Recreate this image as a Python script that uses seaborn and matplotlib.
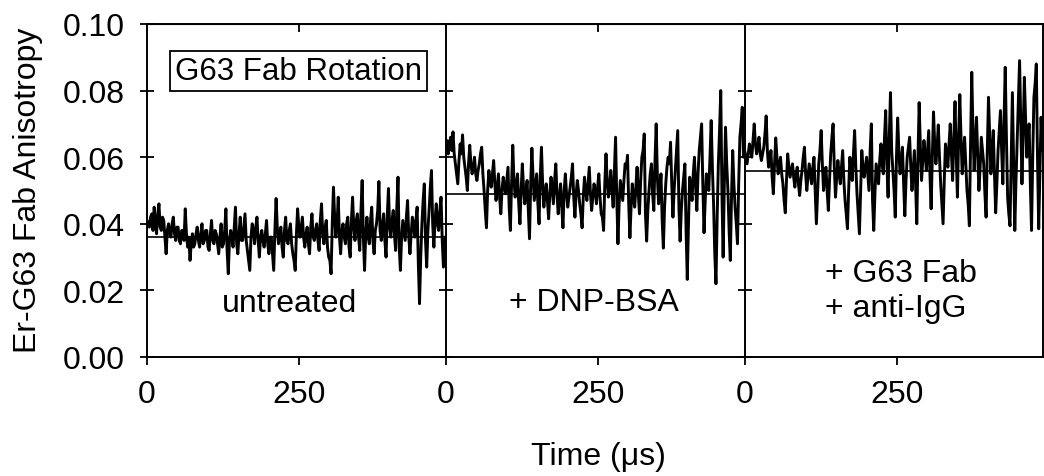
import numpy as np
import pandas as pd
import matplotlib
matplotlib.use('Agg')
import matplotlib.pyplot as plt
import seaborn as sns

# anisotropy traces; the *_mid lists are the readings
# half-way between the main ones, so one sample every STEP_US microseconds
STEP_US = 1.96

untreated = [
    0.041, 0.039, 0.043, 0.045, 0.037, 0.046, 0.038, 0.041, 0.031, 0.040,
    0.036, 0.042, 0.035, 0.039, 0.034, 0.038, 0.0445, 0.033, 0.029, 0.037,
    0.034, 0.039, 0.033, 0.040, 0.035, 0.038, 0.032, 0.041, 0.034, 0.037,
    0.031, 0.040, 0.034, 0.0445, 0.025, 0.038, 0.033, 0.045, 0.031, 0.042,
    0.035, 0.043, 0.032, 0.026, 0.040, 0.034, 0.042, 0.030, 0.038, 0.033,
    0.041, 0.031, 0.036, 0.026, 0.0476, 0.034, 0.039, 0.030, 0.042, 0.034,
    0.040, 0.031, 0.026, 0.0445, 0.036, 0.042, 0.033, 0.039, 0.031, 0.043,
    0.035, 0.040, 0.032, 0.046, 0.034, 0.041, 0.030, 0.025, 0.051, 0.036,
    0.048, 0.031, 0.040, 0.034, 0.042, 0.030, 0.048, 0.035, 0.043, 0.032,
    0.053, 0.026, 0.042, 0.034, 0.045, 0.031, 0.040, 0.0527, 0.035, 0.043,
    0.030, 0.0506, 0.036, 0.044, 0.032, 0.054, 0.026, 0.041, 0.035, 0.047,
    0.031, 0.042, 0.036, 0.045, 0.016, 0.040, 0.052, 0.027, 0.044, 0.056,
    0.033, 0.046, 0.038, 0.048, 0.027,
]
untreated_mid = [
    0.040, 0.042, 0.038, 0.040, 0.043, 0.039, 0.042, 0.036, 0.038, 0.037,
    0.040, 0.037, 0.039, 0.035, 0.038, 0.035, 0.037, 0.036, 0.034, 0.033,
    0.037, 0.035, 0.037, 0.034, 0.038, 0.033, 0.037, 0.035, 0.038, 0.034,
    0.036, 0.033, 0.038, 0.032, 0.035, 0.036, 0.039, 0.034, 0.037, 0.035,
    0.039, 0.035, 0.029, 0.036, 0.038, 0.039, 0.035, 0.036, 0.035, 0.037,
    0.034, 0.036, 0.031, 0.038, 0.039, 0.037, 0.033, 0.038, 0.035, 0.038,
    0.034, 0.029, 0.037, 0.039, 0.039, 0.036, 0.037, 0.034, 0.039, 0.036,
    0.038, 0.035, 0.041, 0.037, 0.039, 0.033, 0.029, 0.040, 0.042, 0.040,
    0.036, 0.038, 0.036, 0.040, 0.033, 0.041, 0.039, 0.041, 0.036, 0.044,
    0.036, 0.037, 0.036, 0.041, 0.035, 0.038, 0.044, 0.038, 0.040, 0.035,
    0.042, 0.039, 0.041, 0.037, 0.045, 0.033, 0.036, 0.038, 0.042, 0.036,
    0.037, 0.040, 0.041, 0.028, 0.030, 0.047, 0.035, 0.038, 0.051, 0.040,
    0.041, 0.040, 0.044, 0.035, 0.036,
]

dnp_bsa = [
    0.063, 0.061, 0.066, 0.0676, 0.058, 0.052, 0.064, 0.0667, 0.057, 0.050,
    0.0636, 0.055, 0.060, 0.053, 0.058, 0.063, 0.050, 0.0388, 0.056, 0.051,
    0.059, 0.047, 0.055, 0.043, 0.054, 0.049, 0.057, 0.038, 0.0636, 0.048,
    0.055, 0.040, 0.058, 0.046, 0.053, 0.0355, 0.0627, 0.047, 0.055, 0.040,
    0.063, 0.045, 0.052, 0.0415, 0.054, 0.046, 0.058, 0.043, 0.052, 0.0388,
    0.055, 0.045, 0.051, 0.058, 0.042, 0.053, 0.046, 0.0388, 0.054, 0.047,
    0.057, 0.044, 0.052, 0.046, 0.055, 0.043, 0.038, 0.061, 0.048, 0.056,
    0.045, 0.066, 0.034, 0.053, 0.047, 0.058, 0.0606, 0.0358, 0.052, 0.045,
    0.057, 0.043, 0.060, 0.067, 0.0348, 0.050, 0.058, 0.044, 0.070, 0.046,
    0.055, 0.0327, 0.052, 0.060, 0.0645, 0.042, 0.056, 0.068, 0.0348, 0.050,
    0.058, 0.0233, 0.054, 0.047, 0.060, 0.044, 0.062, 0.070, 0.0373, 0.055,
    0.050, 0.071, 0.046, 0.022, 0.058, 0.080, 0.030, 0.069, 0.050, 0.029,
    0.062, 0.045, 0.034, 0.066, 0.075,
]
dnp_bsa_mid = [
    0.065, 0.064, 0.062, 0.061, 0.055, 0.059, 0.061, 0.060, 0.054, 0.058,
    0.058, 0.057, 0.055, 0.056, 0.061, 0.055, 0.044, 0.050, 0.053, 0.055,
    0.052, 0.051, 0.048, 0.050, 0.051, 0.053, 0.045, 0.052, 0.053, 0.052,
    0.046, 0.050, 0.051, 0.050, 0.044, 0.052, 0.054, 0.051, 0.046, 0.054,
    0.052, 0.049, 0.047, 0.049, 0.050, 0.053, 0.049, 0.048, 0.045, 0.050,
    0.049, 0.048, 0.054, 0.048, 0.049, 0.050, 0.043, 0.048, 0.050, 0.052,
    0.049, 0.048, 0.050, 0.051, 0.048, 0.042, 0.052, 0.053, 0.051, 0.050,
    0.056, 0.048, 0.046, 0.050, 0.053, 0.057, 0.046, 0.045, 0.048, 0.051,
    0.049, 0.053, 0.062, 0.043, 0.044, 0.055, 0.049, 0.059, 0.054, 0.049,
    0.041, 0.045, 0.057, 0.058, 0.052, 0.050, 0.062, 0.045, 0.044, 0.054,
    0.038, 0.040, 0.050, 0.055, 0.051, 0.055, 0.066, 0.052, 0.047, 0.053,
    0.060, 0.057, 0.031, 0.042, 0.068, 0.049, 0.052, 0.058, 0.038, 0.048,
    0.052, 0.040, 0.052, 0.070, 0.060,
]

fab_anti_igg = [
    0.062, 0.058, 0.064, 0.060, 0.070, 0.061, 0.066, 0.059, 0.063, 0.0724,
    0.057, 0.062, 0.049, 0.0658, 0.055, 0.060, 0.052, 0.0433, 0.061, 0.054,
    0.058, 0.051, 0.057, 0.0485, 0.056, 0.063, 0.050, 0.058, 0.052, 0.060,
    0.040, 0.058, 0.068, 0.050, 0.057, 0.044, 0.061, 0.070, 0.048, 0.059,
    0.052, 0.062, 0.047, 0.0385, 0.060, 0.053, 0.068, 0.049, 0.037, 0.062,
    0.054, 0.060, 0.050, 0.070, 0.038, 0.058, 0.052, 0.064, 0.055, 0.074,
    0.048, 0.0794, 0.056, 0.042, 0.0718, 0.055, 0.063, 0.0424, 0.060, 0.066,
    0.050, 0.062, 0.040, 0.0764, 0.053, 0.065, 0.056, 0.068, 0.0445, 0.0736,
    0.058, 0.0697, 0.052, 0.040, 0.064, 0.057, 0.070, 0.053, 0.0767, 0.048,
    0.0788, 0.055, 0.066, 0.050, 0.0394, 0.0855, 0.056, 0.072, 0.050, 0.066,
    0.058, 0.042, 0.078, 0.055, 0.068, 0.0433, 0.062, 0.074, 0.052, 0.087,
    0.048, 0.0394, 0.0794, 0.038, 0.065, 0.089, 0.052, 0.084, 0.060, 0.070,
    0.038, 0.078, 0.088, 0.0385, 0.072,
]
fab_anti_igg_mid = [
    0.060, 0.061, 0.062, 0.065, 0.064, 0.063, 0.061, 0.061, 0.067, 0.062,
    0.059, 0.054, 0.058, 0.060, 0.057, 0.055, 0.047, 0.053, 0.057, 0.056,
    0.054, 0.055, 0.052, 0.053, 0.060, 0.055, 0.054, 0.055, 0.057, 0.050,
    0.049, 0.062, 0.058, 0.054, 0.050, 0.053, 0.066, 0.057, 0.054, 0.055,
    0.057, 0.053, 0.043, 0.050, 0.056, 0.061, 0.057, 0.043, 0.050, 0.057,
    0.057, 0.055, 0.062, 0.047, 0.049, 0.055, 0.059, 0.058, 0.066, 0.058,
    0.066, 0.062, 0.050, 0.060, 0.062, 0.058, 0.052, 0.053, 0.063, 0.057,
    0.056, 0.052, 0.060, 0.063, 0.059, 0.061, 0.062, 0.055, 0.060, 0.064,
    0.063, 0.060, 0.046, 0.053, 0.061, 0.064, 0.061, 0.066, 0.061, 0.066,
    0.066, 0.061, 0.058, 0.046, 0.064, 0.068, 0.065, 0.060, 0.057, 0.062,
    0.049, 0.062, 0.066, 0.061, 0.055, 0.052, 0.068, 0.062, 0.071, 0.066,
    0.043, 0.060, 0.058, 0.053, 0.078, 0.070, 0.067, 0.072, 0.066, 0.052,
    0.060, 0.082, 0.060, 0.056, 0.062,
]

# plateau level of the fitted curve in each condition
fit_levels = [0.036, 0.049, 0.056]

panel_labels = ['untreated', '+ DNP-BSA', '+ G63 Fab\n+ anti-IgG']
traces = [(untreated, untreated_mid), (dnp_bsa, dnp_bsa_mid),
          (fab_anti_igg, fab_anti_igg_mid)]

x_ticks = [0, 250]
y_ticks = [0.00, 0.02, 0.04, 0.06, 0.08, 0.10]

sns.set_style('ticks')
plt.rcParams['font.family'] = ['Liberation Sans', 'DejaVu Sans']
for key in ['text.color', 'axes.labelcolor', 'xtick.color', 'ytick.color',
            'axes.edgecolor']:
    plt.rcParams[key] = 'black'
FS = 23

fig, axes = plt.subplots(1, 3, figsize=(10.44, 4.77), dpi=100, sharey=True,
                         gridspec_kw={'wspace': 0})
fig.subplots_adjust(left=147/1044, right=0.9995, bottom=119/477, top=452/477)

for i, ax in enumerate(axes):
    main, mid = traces[i]
    vals = [v for pair in zip(main, mid) for v in pair]
    df = pd.DataFrame({'time': np.arange(len(vals)) * STEP_US, 'r': vals})
    sns.lineplot(data=df, x='time', y='r', ax=ax, color='black', lw=2.1,
                 estimator=None, sort=False)
    ax.axhline(fit_levels[i], color='black', lw=1.2)
    ax.set_xlim(0, 490)
    ax.set_ylim(0, 0.10)
    ax.set_xlabel('')
    ax.set_ylabel('')
    ax.set_xticks(x_ticks)
    ax.set_xticklabels([str(t) for t in x_ticks], fontsize=FS)
    ax.tick_params(axis='x', direction='out', length=6, width=1.3, pad=10)
    ax.tick_params(axis='y', direction='inout', length=10, width=1.3, pad=11,
                   labelsize=FS)
    for s in ax.spines.values():
        s.set_linewidth(1.4)
    top = ax.secondary_xaxis('top')
    top.set_xticks([250])
    top.set_xticklabels([])
    top.tick_params(direction='in', length=6, width=1.3)
    if i < 2:
        ax.spines['right'].set_visible(False)

axes[0].set_yticks(y_ticks)
axes[0].set_yticklabels(['%.2f' % v for v in y_ticks])

axes[0].text(0.507, 0.859, 'G63 Fab Rotation', transform=axes[0].transAxes,
             ha='center', va='center', fontsize=FS - 0.5,
             bbox=dict(boxstyle='square,pad=0.16', fc='white', ec='black', lw=1.3))
axes[0].text(0.478, 0.162, panel_labels[0], transform=axes[0].transAxes,
             ha='center', va='center', fontsize=FS)
axes[1].text(0.497, 0.165, panel_labels[1], transform=axes[1].transAxes,
             ha='center', va='center', fontsize=FS)
axes[2].text(0.268, 0.20, panel_labels[2], transform=axes[2].transAxes,
             ha='left', va='center', fontsize=FS)

fig.text(28/1044, 1 - 190/477, 'Er-G63 Fab Anisotropy', rotation=90,
         ha='center', va='center', fontsize=FS)
fig.text(598/1044, 1 - 457/477, 'Time (\u03bcs)', ha='center', va='center',
         fontsize=FS)

fig.savefig('out.png', dpi=100)
